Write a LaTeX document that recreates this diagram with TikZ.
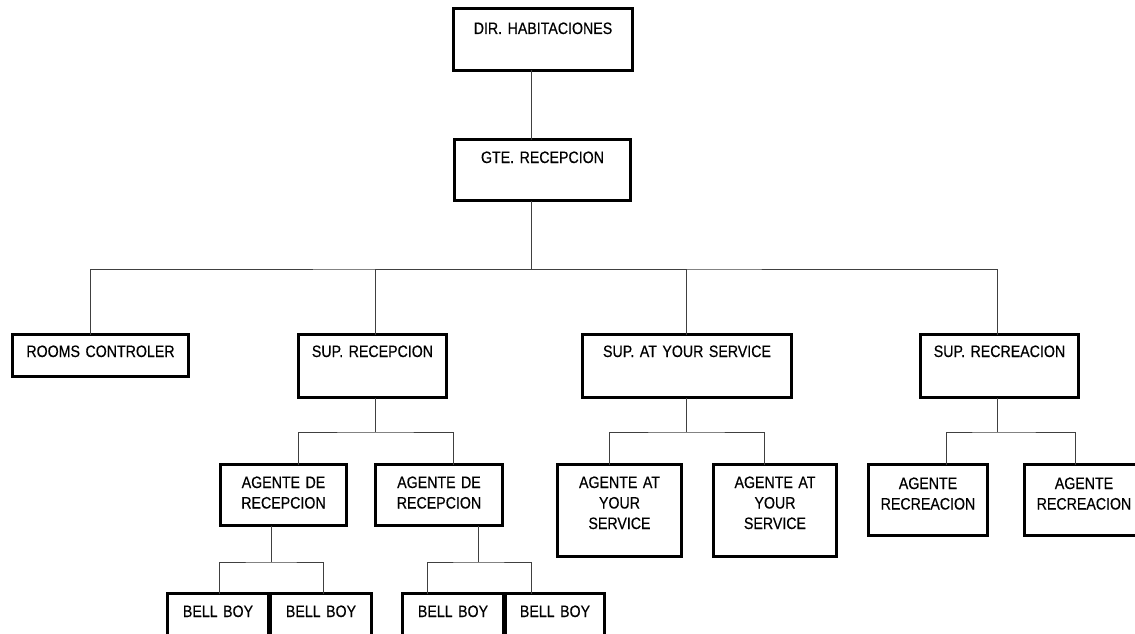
\documentclass[tikz,border=0pt]{standalone}
\usepackage{fontspec}
\setmainfont{Liberation Sans}[FakeStretch=0.86, FakeBold=0.4]
\usetikzlibrary{math}

\begin{document}
\begin{tikzpicture}[x=1pt, y=-1pt,
    caja/.style={draw=black, line width=3pt, inner sep=0pt, outer sep=0pt, anchor=north,
      align=center, font=\fontsize{16.5}{20.5}\selectfont},
    linea/.style={draw=black!75, line width=1pt}]
  \tikzmath{\ya = 269; \yb = 432; \yc = 562;}
  \useasboundingbox (0,0) rectangle (1135,634);
  % direccion y gerencia
  \node[caja, text width=179pt, text height=25.5pt, text depth=36.5pt] (dir) at (543,8.5) {DIR. HABITACIONES};
  \node[caja, text width=176pt, text height=23.5pt, text depth=37.5pt] (gte) at (542.5,139.5) {GTE. RECEPCION};
  % supervisores
  \node[caja, text width=176pt, text height=22.5pt, text depth=19.5pt] (rooms) at (100.5,334.5) {ROOMS CONTROLER};
  \node[caja, text width=148pt, text height=22.5pt, text depth=40.5pt] (suprec) at (372.5,334.5) {SUP. RECEPCION};
  \node[caja, text width=209pt, text height=22.5pt, text depth=40.5pt] (supays) at (687,334.5) {SUP. AT YOUR SERVICE};
  \node[caja, text width=158pt, text height=22.5pt, text depth=40.5pt] (suprecr) at (999.5,334.5) {SUP. RECREACION};
  % agentes
  \node[caja, text width=126pt, text height=23.5pt, text depth=37.5pt] (ag1) at (283.5,464.5) {AGENTE DE\\RECEPCION};
  \node[caja, text width=127pt, text height=23.5pt, text depth=37.5pt] (ag2) at (439,464.5) {AGENTE DE\\RECEPCION};
  \node[caja, text width=124pt, text height=23.5pt, text depth=68.5pt] (ays1) at (619.5,464.5) {AGENTE AT\\YOUR\\SERVICE};
  \node[caja, text width=123pt, text height=23.5pt, text depth=68.5pt] (ays2) at (775,464.5) {AGENTE AT\\YOUR\\SERVICE};
  \node[caja, text width=119pt, text height=24.5pt, text depth=46.5pt] (rec1) at (928,464.5) {AGENTE\\RECREACION};
  \node[caja, text width=119pt, text height=24.5pt, text depth=46.5pt] (rec2) at (1084,464.5) {AGENTE\\RECREACION};
  % bell boys
  \node[caja, text width=101pt, text height=23.5pt, text depth=60pt] (bb1) at (218,593.5) {BELL BOY};
  \node[caja, text width=101pt, text height=23.5pt, text depth=60pt] (bb2) at (321,593.5) {BELL BOY};
  \node[caja, text width=101pt, text height=23.5pt, text depth=60pt] (bb3) at (453,593.5) {BELL BOY};
  \node[caja, text width=99pt, text height=23.5pt, text depth=60pt] (bb4) at (555,593.5) {BELL BOY};
  % uniones
  \coordinate (j1) at (531,\ya);
  \coordinate (j2) at (375,\yb);
  \coordinate (j3) at (686,\yb);
  \coordinate (j4) at (997,\yb);
  \coordinate (j5) at (271,\yc);
  \coordinate (j6) at (478,\yc);
  \draw[linea] (dir.south -| j1) -- (gte.north -| j1);
  \draw[linea] (gte.south -| j1) -- (j1);
  \draw[linea] ([xshift=-10.5pt]rooms.north) |- (j1) -| ([xshift=-2.5pt]suprecr.north);
  \draw[linea] ([xshift=2.5pt]suprec.north) |- (j1);
  \draw[linea] ([xshift=-1pt]supays.north) |- (j1);
  \draw[linea] (suprec.south -| j2) -- (j2);
  \draw[linea] ([xshift=14.5pt]ag1.north) |- (j2) -| ([xshift=14pt]ag2.north);
  \draw[linea] (supays.south -| j3) -- (j3);
  \draw[linea] ([xshift=-10.5pt]ays1.north) |- (j3) -| ([xshift=-11pt]ays2.north);
  \draw[linea] (suprecr.south -| j4) -- (j4);
  \draw[linea] ([xshift=18pt]rec1.north) |- (j4) -| ([xshift=-9pt]rec2.north);
  \draw[linea] (ag1.south -| j5) -- (j5);
  \draw[linea] ([xshift=1pt]bb1.north) |- (j5) -| ([xshift=2pt]bb2.north);
  \draw[linea] (ag2.south -| j6) -- (j6);
  \draw[linea] ([xshift=-26pt]bb3.north) |- (j6) -| ([xshift=-24pt]bb4.north);
\end{tikzpicture}
\end{document}
